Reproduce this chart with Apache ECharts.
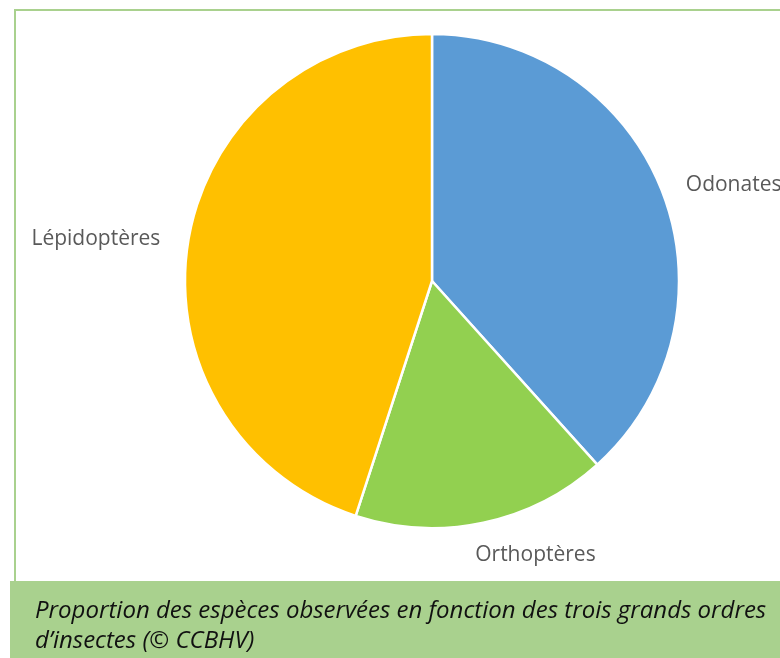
<!DOCTYPE html>
<html>
<head>
<meta charset="UTF-8">
<title></title>
<script src="https://cdn.jsdelivr.net/npm/echarts@6/dist/echarts.min.js"></script>
<style>
html, body { margin: 0; padding: 0; background: #fff; }
#chart { width: 780px; height: 658px; }
</style>
</head>
<body>
<div id="chart"></div>
<script>
// ordres d'insectes et nombre d'especes
var categories = ['Odonates', 'Orthoptères', 'Lépidoptères'];
var values = [23, 10, 27];
var colors = ['#5b9bd5', '#92d050', '#ffc000'];
var labelLen = [27, 33, 23];
var labelShift = [-7, -20, 0];
var captionLines = [
  'Proportion des espèces observées en fonction des trois grands ordres',
  'd\u2019insectes (© CCBHV)'
];

var chart = echarts.init(document.getElementById('chart'));

var data = [];
for (var i = 0; i < categories.length; i++) {
  data.push({
    name: categories[i],
    value: values[i],
    itemStyle: { color: colors[i] },
    labelLine: { show: false, length: labelLen[i], length2: 0 }
  });
}

var option = {
  backgroundColor: '#fff',
  animation: false,
  graphic: [
    {
      type: 'rect',
      shape: { x: 15, y: 10, width: 800, height: 580 },
      style: { fill: 'none', stroke: '#a9d18e', lineWidth: 2 },
      z: 0
    },
    {
      type: 'rect',
      shape: { x: 10, y: 581, width: 780, height: 80 },
      style: { fill: '#a9d18e' },
      z: 1
    },
    {
      type: 'text',
      left: 35,
      top: 596,
      style: {
        text: captionLines.join('\n'),
        font: 'italic 24px "Open Sans", sans-serif',
        lineHeight: 30,
        fill: '#111'
      },
      z: 2
    }
  ],
  series: [
    {
      type: 'pie',
      center: [432, 281],
      radius: 247,
      startAngle: 90,
      clockwise: true,
      silent: true,
      itemStyle: { borderColor: '#fff', borderWidth: 2.5 },
      label: {
        show: true,
        position: 'outside',
        formatter: '{b}',
        color: '#595959',
        fontSize: 21,
        overflow: 'none',
        fontFamily: '"Open Sans", sans-serif'
      },
      labelLine: { show: false },
      labelLayout: function (p) {
        return { dx: labelShift[p.dataIndex], dy: p.dataIndex === 0 ? 2 : 0 };
      },
      data: data
    }
  ]
};

chart.setOption(option);
</script>
</body>
</html>
